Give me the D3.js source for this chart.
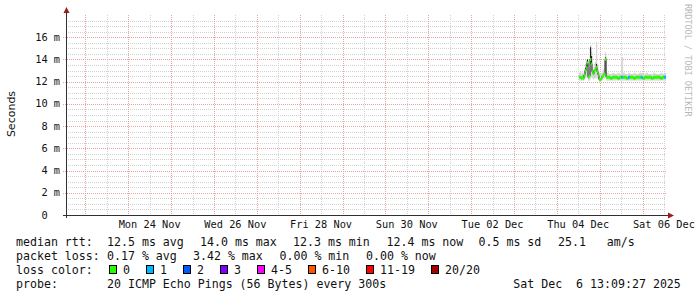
<!DOCTYPE html>
<html>
<head>
<meta charset="utf-8">
<script src="https://cdn.jsdelivr.net/npm/d3@7/dist/d3.min.js"></script>
<style>
  body { margin: 0; background: #fff; }
  text { font-family: "DejaVu Sans Mono", monospace; white-space: pre; }
</style>
</head>
<body>
<svg id="chart" width="697" height="297"></svg>
<script>
// ---- data ----
var startTime = Date.UTC(2025, 10, 22, 13, 9, 27);
var endTime   = Date.UTC(2025, 11, 6, 13, 9, 27);
var dataStart = Date.UTC(2025, 11, 4, 13, 0, 0);

// hours after dataStart
var sampleHours = [0, 0.6, 1.1, 1.7, 2.2, 2.8, 3.4, 3.9, 4.5, 5.0, 5.6, 6.2, 6.7, 7.3, 7.8,
  8.4, 9.0, 9.5, 10.1, 10.6, 11.2, 11.8, 12.3, 12.9, 13.4, 14.0, 14.6, 15.1,
  16, 17, 18, 19, 20, 21, 22, 23, 24, 25, 26, 27, 28, 29, 30, 31, 32,
  33, 34, 35, 36, 37, 38, 39, 40, 41, 42, 43, 44, 45, 46, 47, 48];

// median rtt, ms
var medianMs = [12.4, 12.4, 12.3, 12.4, 12.3, 12.6, 13.0, 13.3, 13.7, 12.4, 12.5, 14.0, 13.6, 12.9, 12.7,
  13.0, 13.1, 13.3, 12.9, 12.6, 12.2, 12.2, 12.3, 12.5, 12.6, 12.7, 14.0, 12.4,
  12.4, 12.4, 12.3, 12.4, 12.4, 12.4, 12.3, 12.4, 12.4, 12.4, 12.4, 12.3, 12.4, 12.4, 12.4, 12.3, 12.4,
  12.4, 12.4, 12.4, 12.3, 12.4, 12.4, 12.4, 12.4, 12.3, 12.4, 12.4, 12.4, 12.4, 12.3, 12.4, 12.4];

// lost pings out of 20
var lossCount = [0, 0, 0, 0, 0, 0, 0, 0, 0, 0, 0, 0, 0, 0, 0,
  0, 0, 0, 0, 0, 0, 0, 0, 0, 0, 0, 0, 0,
  0, 0, 0, 0, 0, 0, 0, 0, 1, 0, 0, 0, 1, 0, 0, 0, 0,
  0, 0, 1, 0, 0, 0, 0, 0, 0, 0, 0, 0, 0, 0, 0, 1];

// smoke: fastest and slowest ping, ms
var smokeLoMs = [12.1, 12.1, 12.1, 12.1, 12.1, 12.2, 12.3, 12.4, 12.3, 12.1, 12.1, 12.3, 12.4, 12.3, 12.2,
  12.3, 12.3, 12.4, 12.3, 12.2, 12.0, 12.0, 12.1, 12.2, 12.2, 12.3, 12.4, 12.1,
  12.1, 12.1, 12.1, 12.1, 12.1, 12.1, 12.1, 12.1, 12.1, 12.1, 12.1, 12.1, 12.1, 12.1, 12.1, 12.1, 12.1,
  12.1, 12.1, 12.1, 12.1, 12.1, 12.1, 12.1, 12.1, 12.1, 12.1, 12.1, 12.1, 12.1, 12.1, 12.1, 12.1];
var smokeHiMs = [12.8, 12.9, 12.7, 12.8, 12.8, 13.1, 13.6, 13.9, 14.0, 12.9, 13.2, 15.3, 14.7, 13.4, 13.2,
  13.6, 13.8, 15.6, 13.5, 13.1, 12.8, 12.7, 12.8, 13.0, 13.1, 13.2, 14.6, 12.9,
  12.8, 12.7, 12.7, 12.8, 12.7, 12.7, 12.8, 12.7, 14.2, 12.8, 12.7, 12.7, 12.8, 12.7, 12.7, 12.8, 12.7,
  12.7, 12.8, 12.8, 12.7, 12.7, 12.8, 12.7, 12.7, 12.7, 12.8, 12.7, 12.7, 12.7, 12.8, 12.7, 12.8];
// upper end of the dense (dark) part of the smoke, ms
var smokeDarkMs = [12.4, 12.4, 12.3, 12.4, 12.3, 12.6, 13.2, 13.5, 14.0, 12.4, 12.5, 15.1, 14.3, 12.9, 12.7,
  13.0, 13.2, 13.6, 12.9, 12.6, 12.2, 12.2, 12.3, 12.5, 12.6, 12.7, 14.2, 12.4,
  12.4, 12.4, 12.3, 12.4, 12.4, 12.4, 12.3, 12.4, 12.4, 12.4, 12.4, 12.3, 12.4, 12.4, 12.4, 12.3, 12.4,
  12.4, 12.4, 12.4, 12.3, 12.4, 12.4, 12.4, 12.4, 12.3, 12.4, 12.4, 12.4, 12.4, 12.3, 12.4, 12.4];

var yTickMs = [0, 2, 4, 6, 8, 10, 12, 14, 16];
var labelDays = [Date.UTC(2025, 10, 24, 12), Date.UTC(2025, 10, 26, 12), Date.UTC(2025, 10, 28, 12),
  Date.UTC(2025, 10, 30, 12), Date.UTC(2025, 11, 2, 12), Date.UTC(2025, 11, 4, 12), Date.UTC(2025, 11, 6, 12)];

var lossLabels = ["0", "1", "2", "3", "4-5", "6-10", "11-19", "20/20"];
var lossColors = ["#26ff00", "#00b8ff", "#0059ff", "#7e00ff", "#ff00ff", "#ff5500", "#ff0000", "#a00000"];
var lossUpper  = [0, 1, 2, 3, 5, 10, 19, 20];

var medianRow = ["12.5 ms avg", "14.0 ms max", "12.3 ms min", "12.4 ms now", "0.5 ms sd", "25.1   am/s"];
var lossRow   = ["0.17 % avg", "3.42 % max", "0.00 % min", "0.00 % now"];
var probeText = "20 ICMP Echo Pings (56 Bytes) every 300s";
var stampText = "Sat Dec  6 13:09:27 2025";

(function () {
  // ---- drawing ----
  var svg = d3.select("#chart");
  var pLeft = 66, pRight = 666, pTop = 15, pBottom = 215;

  var x = d3.scaleUtc().domain([startTime, endTime]).range([pLeft, pRight]);
  var y = d3.scaleLinear().domain([0, 18]).range([pBottom, pTop]);
  var px = function(v) { return Math.round(v) + 0.5; };

  var gridColor = "#d2d2d2", mgridColor = "#e8a4a4";

  // horizontal grid, every 0.5 ms
  var grid = svg.append("g").attr("shape-rendering", "crispEdges");
  y.ticks(36).filter(function(v) { return v > 0 && v < 18 && v % 2 !== 0; }).forEach(function(v) {
    grid.append("line").attr("x1", pLeft).attr("x2", pRight).attr("y1", px(y(v))).attr("y2", px(y(v)))
      .attr("stroke", gridColor).attr("stroke-dasharray", "1,1");
  });
  // vertical grid: noon minor, midnight major
  d3.utcHour.every(12).range(new Date(startTime), new Date(endTime)).forEach(function(d) {
    if (d.getUTCHours() === 0) return;
    grid.append("line").attr("x1", px(x(d))).attr("x2", px(x(d))).attr("y1", pTop).attr("y2", pBottom)
      .attr("stroke", gridColor).attr("stroke-dasharray", "1,1");
  });
  d3.utcDay.range(new Date(startTime), new Date(endTime)).forEach(function(d) {
    grid.append("line").attr("x1", px(x(d))).attr("x2", px(x(d))).attr("y1", pTop).attr("y2", pBottom + 2)
      .attr("stroke", mgridColor).attr("stroke-dasharray", "1,1");
  });
  yTickMs.filter(function(v) { return v > 0; }).forEach(function(v) {
    grid.append("line").attr("x1", pLeft - 3).attr("x2", pRight).attr("y1", px(y(v))).attr("y2", px(y(v)))
      .attr("stroke", mgridColor).attr("stroke-dasharray", "1,1");
  });

  // samples
  var samples = sampleHours.map(function(h, i) {
    return { t: dataStart + h * 3600e3, med: medianMs[i], loss: lossCount[i],
             lo: smokeLoMs[i], hi: smokeHiMs[i], dark: smokeDarkMs[i] };
  });
  samples.forEach(function(s, i) {
    s.x1 = x(s.t);
    s.x0 = i === 0 ? s.x1 - 1 : samples[i - 1].x1;
  });
  function lossColor(n) {
    for (var k = 0; k < lossUpper.length; k++) if (n <= lossUpper[k]) return lossColors[k];
    return lossColors[lossColors.length - 1];
  }

  var plot = svg.append("g");
  plot.selectAll(".smoke").data(samples).enter().append("rect")
    .attr("x", function(d) { return d.x0; })
    .attr("width", function(d) { return d.x1 - d.x0 + 0.3; })
    .attr("y", function(d) { return y(d.hi); })
    .attr("height", function(d) { return y(d.lo) - y(d.hi); })
    .attr("fill", "#d6d6d6");
  plot.selectAll(".dark").data(samples.filter(function(d) { return d.dark > d.med; })).enter().append("rect")
    .attr("x", function(d) { return d.x0 + (d.x1 - d.x0) / 2 - 0.6; })
    .attr("width", 1.2)
    .attr("y", function(d) { return y(d.dark); })
    .attr("height", function(d) { return y(d.med) - y(d.dark); })
    .attr("fill", "#202020");

  var stepPts = [[samples[0].x0, y(samples[0].med)]].concat(samples.map(function(d) { return [d.x1, y(d.med)]; }));
  plot.append("path")
    .attr("d", d3.line().curve(d3.curveStepBefore)(stepPts))
    .attr("fill", "none").attr("stroke", "#202020").attr("stroke-width", 1);

  plot.selectAll(".med").data(samples).enter().append("rect")
    .attr("x", function(d) { return d.x0; })
    .attr("width", function(d) { return d.x1 - d.x0 + 0.3; })
    .attr("y", function(d) { return y(d.med) - 1.5; })
    .attr("height", 3)
    .attr("fill", function(d) { return lossColor(d.loss); });

  // axes
  var axisColor = "#303030", arrowColor = "#a01c1c";
  svg.append("line").attr("x1", pLeft - 3).attr("x2", pRight + 2).attr("y1", pBottom + 0.5).attr("y2", pBottom + 0.5)
    .attr("stroke", axisColor).attr("shape-rendering", "crispEdges");
  svg.append("line").attr("x1", pLeft + 0.5).attr("x2", pLeft + 0.5).attr("y1", pBottom + 3).attr("y2", pTop - 3)
    .attr("stroke", axisColor).attr("shape-rendering", "crispEdges");
  svg.append("path").attr("d", "M" + (pLeft - 2.5) + "," + (pTop - 2) + "L" + (pLeft + 3.5) + "," + (pTop - 2) + "L" + (pLeft + 0.5) + "," + (pTop - 8) + "Z")
    .attr("fill", arrowColor);
  svg.append("path").attr("d", "M" + (pRight + 2) + "," + (pBottom - 2.5) + "L" + (pRight + 2) + "," + (pBottom + 3.5) + "L" + (pRight + 8) + "," + (pBottom + 0.5) + "Z")
    .attr("fill", arrowColor);

  // tick labels
  svg.selectAll(".ylab").data(yTickMs).enter().append("text")
    .attr("x", 60).attr("y", function(d) { return y(d) + 3.5; })
    .attr("text-anchor", "end").attr("font-size", "10.3px").attr("fill", "#111")
    .text(function(d) { return d === 0 ? "0  " : d + " m"; });

  var fmt = d3.utcFormat("%a %d %b");
  svg.selectAll(".xlab").data(labelDays).enter().append("text")
    .attr("x", function(d) { return x(d); }).attr("y", 228)
    .attr("text-anchor", "middle").attr("font-size", "10.3px").attr("fill", "#111")
    .text(function(d) { return fmt(new Date(d)); });

  svg.append("text").attr("transform", "translate(15,114) rotate(-90)")
    .attr("text-anchor", "middle").attr("font-size", "11px").attr("fill", "#111")
    .style("font-family", "DejaVu Sans")
    .text("Seconds");

  svg.append("text").attr("transform", "translate(685,4) rotate(90)")
    .attr("font-size", "8.5px").attr("fill", "#b8b8b8")
    .text("RRDTOOL / TOBI OETIKER");

  // legend
  var lf = "11.6px", cw = 7;
  function legendText(xp, yp, s) {
    svg.append("text").attr("x", xp).attr("y", yp).attr("font-size", lf).attr("fill", "#111").text(s);
  }
  legendText(16, 246, "median rtt:");
  var mx = [107, 200, 293, 386.5, 478.5, 558];
  medianRow.forEach(function(s, i) { legendText(mx[i], 246, s); });

  legendText(16, 259.5, "packet loss:");
  var lx = [107, 193, 279.5, 366];
  lossRow.forEach(function(s, i) { legendText(lx[i], 259.5, s); });

  legendText(16, 273.5, "loss color:");
  var bx = 109;
  lossLabels.forEach(function(s, i) {
    svg.append("rect").attr("x", bx + 0.5).attr("y", 265.5).attr("width", 7).attr("height", 8)
      .attr("fill", lossColors[i]).attr("stroke", "#000").attr("shape-rendering", "crispEdges");
    legendText(bx + 14, 273.5, s);
    bx += 30 + cw * s.length;
  });

  legendText(16, 287.5, "probe:");
  legendText(107, 287.5, probeText);
  legendText(513.3, 287.5, stampText);
}());
</script>
</body>
</html>
